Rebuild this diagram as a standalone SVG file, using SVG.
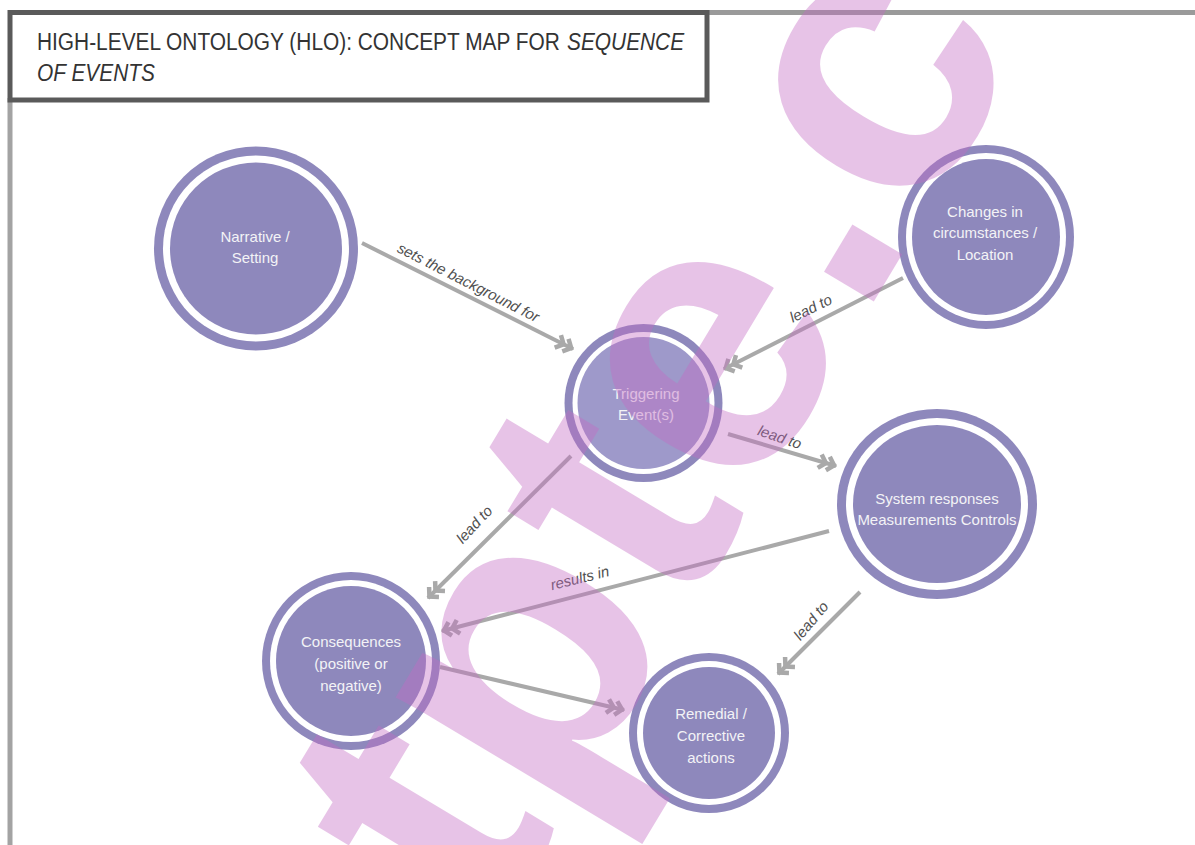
<svg xmlns="http://www.w3.org/2000/svg" width="1195" height="845" viewBox="0 0 1195 845">
  <defs>
    <style>
      .ring { fill: #8e88bc; }
      .gap { fill: #ffffff; }
      .core { fill: #8e88bc; }
      .core-lite { fill: #9e99ca; }
      .ntext { font-family: "Liberation Sans", Arial, sans-serif; font-size: 15px; fill: #f3f3f6; text-anchor: middle; }
      .edge { stroke: #a9a9a9; stroke-width: 4; fill: none; marker-end: url(#dbl); }
      .elabel { font-family: "Liberation Sans", Arial, sans-serif; font-size: 15px; font-style: italic; fill: #505050; text-anchor: middle; }
      .title { font-family: "Liberation Sans", Arial, sans-serif; font-size: 23.5px; fill: #333333; }
      .mark { font-family: "Liberation Sans", Arial, sans-serif; font-weight: bold; font-size: 390px; fill: #c46cc4; }
    </style>
    <marker id="dbl" viewBox="-17 -10 23 20" refX="3" refY="0" markerWidth="23" markerHeight="20" orient="auto" markerUnits="userSpaceOnUse">
      <path d="M-14,-7 L-7.5,0 L-14,7 M-5.5,-7 L1,0 L-5.5,7" fill="none" stroke="#a9a9a9" stroke-width="4.5" stroke-linejoin="miter"/>
    </marker>
  </defs>

  <rect x="0" y="0" width="1195" height="845" fill="#ffffff"/>

  <!-- page frame -->
  <g id="frame">
    <line x1="705" y1="12.5" x2="1195" y2="12.5" stroke="#9a9a9a" stroke-width="5"/>
    <line x1="10" y1="98" x2="10" y2="845" stroke="#a3a3a3" stroke-width="5"/>
  </g>

  <!-- title box (condensed lettering via horizontal scale) -->
  <g id="title">
    <rect x="10" y="12.5" width="697" height="87.5" fill="#ffffff" stroke="#5a5a5a" stroke-width="5"/>
    <text class="title" transform="translate(37,50) scale(0.888,1)">HIGH-LEVEL ONTOLOGY (HLO): CONCEPT MAP FOR</text>
    <text class="title" transform="translate(567,50) scale(0.888,1)" font-style="italic">SEQUENCE</text>
    <text class="title" transform="translate(37,81) scale(0.888,1)" font-style="italic">OF EVENTS</text>
  </g>

  <!-- connectors -->
  <g id="connectors">
    <line class="edge" x1="362" y1="243" x2="573" y2="349"/>
    <line class="edge" x1="903" y1="278" x2="724" y2="369"/>
    <line class="edge" x1="728" y1="434" x2="836" y2="466"/>
    <line class="edge" x1="571" y1="456" x2="428" y2="598"/>
    <line class="edge" x1="829" y1="531" x2="442" y2="631"/>
    <line class="edge" x1="860" y1="592" x2="778" y2="674"/>
    <line class="edge" x1="440" y1="667" x2="624" y2="710"/>

    <text class="elabel" transform="translate(466,287) rotate(27)">sets the background for</text>
    <text class="elabel" transform="translate(813,313) rotate(-26)">lead to</text>
    <text class="elabel" transform="translate(778,442) rotate(19)">lead to</text>
    <text class="elabel" transform="translate(478,528) rotate(-47)">lead to</text>
    <text class="elabel" transform="translate(581,583) rotate(-14)">results in</text>
    <text class="elabel" transform="translate(815,624) rotate(-50)">lead to</text>
  </g>

  <!-- nodes -->
  <g id="node-narrative">
    <circle class="ring" cx="256" cy="248.5" r="102"/>
    <circle class="gap" cx="256" cy="248.5" r="93"/>
    <circle class="core" cx="256" cy="248.5" r="86"/>
    <text class="ntext" x="255" y="242">Narrative /</text>
    <text class="ntext" x="255" y="263">Setting</text>
  </g>

  <g id="node-changes">
    <ellipse class="ring" cx="986" cy="237" rx="88" ry="92"/>
    <ellipse class="gap" cx="986" cy="237" rx="80" ry="84"/>
    <ellipse class="core" cx="986" cy="237" rx="74" ry="78"/>
    <text class="ntext" x="985" y="217">Changes in</text>
    <text class="ntext" x="985" y="238">circumstances /</text>
    <text class="ntext" x="985" y="260">Location</text>
  </g>

  <g id="node-triggering">
    <circle class="ring" cx="643.5" cy="403" r="79"/>
    <circle class="gap" cx="643.5" cy="403" r="71"/>
    <circle class="core-lite" cx="643.5" cy="403" r="66"/>
    <text class="ntext" x="646" y="399">Triggering</text>
    <text class="ntext" x="646" y="420">Event(s)</text>
  </g>

  <g id="node-system">
    <ellipse class="ring" cx="937" cy="504" rx="100" ry="95"/>
    <ellipse class="gap" cx="937" cy="504" rx="91" ry="86"/>
    <ellipse class="core" cx="937" cy="504" rx="84" ry="79"/>
    <text class="ntext" x="937" y="504">System responses</text>
    <text class="ntext" x="937" y="525">Measurements Controls</text>
  </g>

  <g id="node-consequences">
    <circle class="ring" cx="351" cy="661" r="89"/>
    <circle class="gap" cx="351" cy="661" r="81"/>
    <circle class="core" cx="351" cy="661" r="75"/>
    <text class="ntext" x="351" y="647">Consequences</text>
    <text class="ntext" x="351" y="669">(positive or</text>
    <text class="ntext" x="351" y="691">negative)</text>
  </g>

  <g id="node-remedial">
    <circle class="ring" cx="709" cy="733" r="80"/>
    <circle class="gap" cx="709" cy="733" r="72"/>
    <circle class="core" cx="709" cy="733" r="66"/>
    <text class="ntext" x="711" y="719">Remedial /</text>
    <text class="ntext" x="711" y="741">Corrective</text>
    <text class="ntext" x="711" y="763">actions</text>
  </g>

  <!-- translucent overlay lettering -->
  <g opacity="0.4">
    <text class="mark" transform="translate(492,937) rotate(-59)">tpte.c</text>
  </g>
</svg>
